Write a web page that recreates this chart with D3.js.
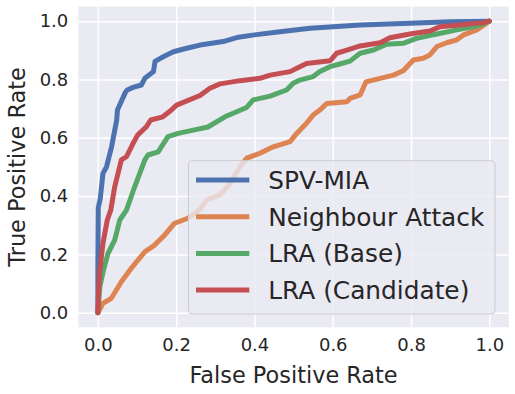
<!DOCTYPE html>
<html><head><meta charset="utf-8">
<script src="https://cdn.jsdelivr.net/npm/d3@7"></script>
<style>body{margin:0;background:#fff}svg{display:block}text{font-family:"DejaVu Sans",sans-serif;fill:#262626}</style>
</head><body><svg id="c" width="515" height="394"></svg>
<script>
const seriesNames = ["SPV-MIA","Neighbour Attack","LRA (Base)","LRA (Candidate)"];
const seriesColors = ["#4c72b0","#dd8452","#55a868","#c44e52"];
const spvFpr = [0,0,0.001,0.006,0.013,0.022,0.035,0.048,0.05,0.07,0.075,0.09,0.111,0.12,0.142,0.146,0.167,0.193,0.227,0.261,0.32,0.359,0.40,0.465,0.542,0.67,0.797,0.9,1];
const spvTpr = [0,0.15,0.36,0.39,0.478,0.5,0.569,0.66,0.695,0.755,0.764,0.773,0.781,0.804,0.827,0.862,0.878,0.895,0.907,0.918,0.93,0.945,0.953,0.964,0.976,0.987,0.993,0.998,1];
const nbFpr = [0,0.013,0.034,0.06,0.085,0.12,0.145,0.171,0.196,0.23,0.261,0.278,0.312,0.338,0.363,0.38,0.414,0.448,0.491,0.508,0.533,0.55,0.567,0.585,0.636,0.644,0.67,0.685,0.721,0.755,0.78,0.806,0.831,0.848,0.866,0.891,0.917,0.934,0.968,0.993,1];
const nbTpr = [0,0.032,0.049,0.106,0.152,0.209,0.232,0.267,0.307,0.324,0.355,0.387,0.404,0.444,0.501,0.53,0.547,0.569,0.587,0.615,0.65,0.678,0.695,0.718,0.724,0.735,0.747,0.792,0.804,0.815,0.83,0.867,0.873,0.884,0.913,0.926,0.936,0.953,0.97,0.993,1];
const baseFpr = [0,0.005,0.015,0.026,0.043,0.056,0.073,0.094,0.12,0.128,0.154,0.179,0.205,0.247,0.281,0.329,0.38,0.397,0.44,0.482,0.499,0.516,0.55,0.567,0.593,0.618,0.644,0.67,0.704,0.738,0.78,0.814,0.866,0.917,0.968,1];
const baseTpr = [0,0.089,0.15,0.204,0.249,0.318,0.352,0.432,0.524,0.541,0.552,0.604,0.615,0.627,0.637,0.675,0.704,0.73,0.743,0.764,0.787,0.798,0.81,0.827,0.844,0.853,0.863,0.89,0.901,0.921,0.924,0.941,0.956,0.97,0.983,1];
const candFpr = [0,0.002,0.005,0.013,0.024,0.033,0.043,0.06,0.073,0.09,0.102,0.124,0.135,0.166,0.183,0.201,0.261,0.286,0.312,0.363,0.414,0.44,0.491,0.516,0.533,0.593,0.61,0.636,0.67,0.721,0.746,0.797,0.848,0.874,0.925,0.985,1];
const candTpr = [0,0.08,0.146,0.238,0.318,0.352,0.432,0.524,0.535,0.581,0.61,0.638,0.661,0.672,0.69,0.712,0.745,0.77,0.785,0.796,0.804,0.815,0.827,0.844,0.855,0.864,0.89,0.901,0.915,0.926,0.943,0.956,0.966,0.981,0.987,0.995,1];
const tickValues = [0,0.2,0.4,0.6,0.8,1.0];
const tickLabels = ["0.0","0.2","0.4","0.6","0.8","1.0"];
const xLabel = "False Positive Rate", yLabel = "True Positive Rate";

const svg = d3.select("#c");
const L = 78.3, R = 508.9, T = 6.6, B = 327.3;
const x = d3.scaleLinear().domain([-0.05,1.05]).range([L,R]);
const y = d3.scaleLinear().domain([-0.05,1.05]).range([B,T]);

svg.append("rect").attr("x",L).attr("y",T).attr("width",R-L).attr("height",B-T).attr("fill","#eaeaf2");

const xa = svg.append("g").attr("transform",`translate(0,${B})`)
  .call(d3.axisBottom(x).tickValues(tickValues).tickFormat((d,i)=>tickLabels[i]).tickSize(-(B-T)).tickPadding(11));
const ya = svg.append("g").attr("transform",`translate(${L},0)`)
  .call(d3.axisLeft(y).tickValues(tickValues).tickFormat((d,i)=>tickLabels[i]).tickSize(-(R-L)).tickPadding(10));
[xa,ya].forEach(g=>{
  g.select(".domain").remove();
  g.selectAll(".tick line").attr("stroke","#ffffff").attr("stroke-width",1.5);
  g.selectAll(".tick text").attr("font-size",18).attr("fill","#262626").attr("font-family","DejaVu Sans");
});

const series = [[spvFpr,spvTpr],[nbFpr,nbTpr],[baseFpr,baseTpr],[candFpr,candTpr]];
const line = d3.line().x(d=>x(d[0])).y(d=>y(d[1]));
const plot = svg.append("g");
series.forEach((s,i)=>{
  const pts = s[0].map((v,j)=>[v,s[1][j]]);
  plot.append("path").datum(pts).attr("d",line).attr("fill","none")
    .attr("stroke",seriesColors[i]).attr("stroke-width",5)
    .attr("stroke-linejoin","round").attr("stroke-linecap","round");
});

svg.append("text").attr("x",(L+R)/2).attr("y",382.5).attr("text-anchor","middle").attr("font-size",22.4).text(xLabel);
svg.append("text").attr("transform",`translate(25,${(T+B)/2}) rotate(-90)`).attr("text-anchor","middle").attr("font-size",22.4).text(yLabel);

// legend
const lg = svg.append("g");
lg.append("rect").attr("x",188.5).attr("y",160.7).attr("width",306.5).attr("height",153.3).attr("rx",4)
  .attr("fill","#eaeaf2").attr("fill-opacity",0.8).attr("stroke","#cccccc").attr("stroke-width",1);
seriesNames.forEach((n,i)=>{
  const ly = 180 + i*36.7;
  lg.append("line").attr("x1",196).attr("x2",249.3).attr("y1",ly).attr("y2",ly)
    .attr("stroke",seriesColors[i]).attr("stroke-width",5);
  lg.append("text").attr("x",268.3).attr("y",ly+9).attr("font-size",24.8).text(n);
});
</script></body></html>
